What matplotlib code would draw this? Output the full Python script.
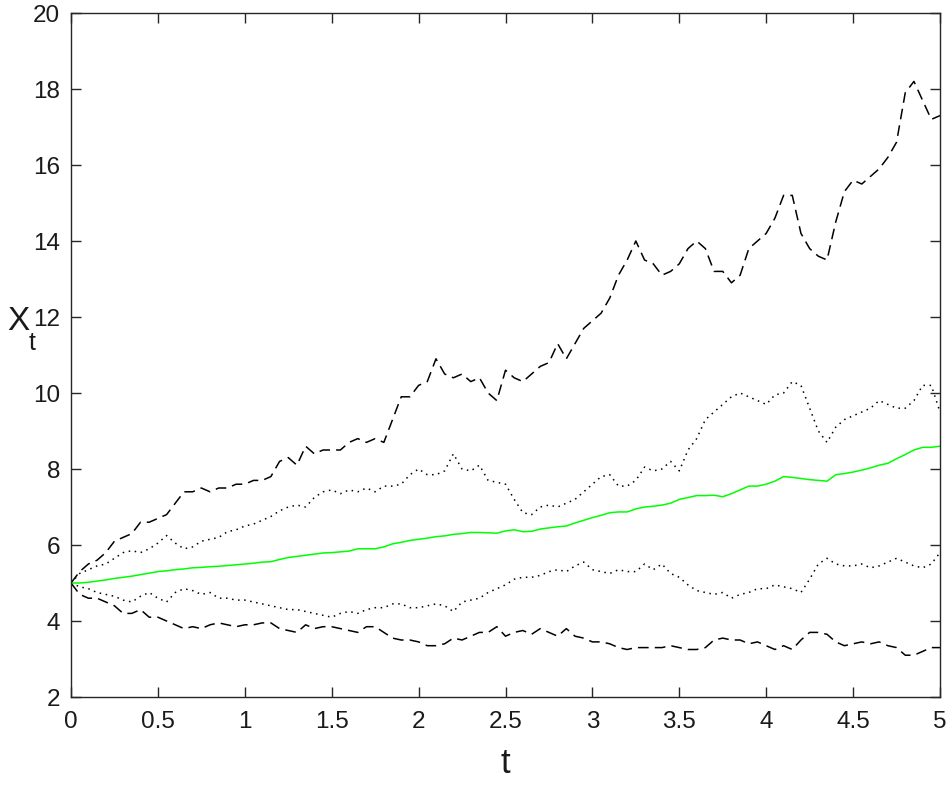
import matplotlib
matplotlib.use("Agg")
import matplotlib.pyplot as plt
import numpy as np

t = np.round(np.arange(0, 5.0001, 0.05), 2)

upper_outer = [5.0, 5.3, 5.5, 5.6, 5.8, 6.1, 6.2, 6.3, 6.6, 6.6,
               6.7, 6.8, 7.1, 7.4, 7.4, 7.5, 7.4, 7.5, 7.5, 7.6,
               7.6, 7.7, 7.7, 7.8, 8.2, 8.3, 8.1, 8.6, 8.4, 8.5,
               8.5, 8.5, 8.7, 8.8, 8.7, 8.8, 8.7, 9.3, 9.9, 9.9,
               10.2, 10.3, 10.9, 10.5, 10.4, 10.5, 10.3, 10.4, 10.0, 9.8,
               10.6, 10.4, 10.3, 10.5, 10.7, 10.8, 11.3, 10.9, 11.3, 11.7,
               11.9, 12.1, 12.5, 13.1, 13.5, 14.0, 13.5, 13.4, 13.1, 13.2,
               13.4, 13.8, 14.0, 13.8, 13.2, 13.2, 12.9, 13.1, 13.8, 14.0,
               14.2, 14.6, 15.2, 15.2, 14.2, 13.8, 13.6, 13.5, 14.5, 15.3,
               15.6, 15.5, 15.7, 15.9, 16.2, 16.6, 17.9, 18.2, 17.7, 17.2,
               17.3]

upper_inner = [5.0, 5.25, 5.35, 5.45, 5.5, 5.65, 5.8, 5.85, 5.8, 5.9,
               6.05, 6.25, 6.05, 5.9, 5.95, 6.1, 6.15, 6.2, 6.35, 6.4,
               6.5, 6.55, 6.65, 6.75, 6.9, 7.0, 7.05, 7.0, 7.25, 7.4,
               7.45, 7.35, 7.45, 7.4, 7.5, 7.4, 7.55, 7.55, 7.6, 7.85,
               8.0, 7.85, 7.85, 7.95, 8.4, 8.0, 7.95, 8.1, 7.7, 7.65,
               7.6, 7.2, 6.85, 6.8, 7.0, 7.05, 7.0, 7.1, 7.2, 7.4,
               7.6, 7.8, 7.85, 7.55, 7.55, 7.7, 8.05, 7.95, 8.0, 8.2,
               7.95, 8.5, 8.8, 9.3, 9.5, 9.7, 9.9, 10.0, 9.9, 9.8,
               9.7, 9.95, 10.0, 10.3, 10.2, 9.6, 9.0, 8.7, 9.1, 9.3,
               9.4, 9.5, 9.6, 9.8, 9.7, 9.6, 9.6, 9.8, 10.2, 10.2,
               9.5]

mean_path = [5.0, 5.0, 5.02, 5.05, 5.08, 5.12, 5.15, 5.18, 5.22, 5.26,
             5.3, 5.32, 5.35, 5.37, 5.4, 5.41, 5.43, 5.44, 5.46, 5.48,
             5.5, 5.52, 5.55, 5.56, 5.62, 5.67, 5.7, 5.73, 5.76, 5.79,
             5.8, 5.82, 5.84, 5.9, 5.9, 5.9, 5.95, 6.03, 6.07, 6.12,
             6.15, 6.18, 6.22, 6.24, 6.28, 6.3, 6.33, 6.33, 6.32, 6.31,
             6.37, 6.4, 6.35, 6.36, 6.42, 6.45, 6.48, 6.5, 6.58, 6.65,
             6.72, 6.78, 6.85, 6.87, 6.87, 6.95, 7.0, 7.02, 7.05, 7.1,
             7.2, 7.25, 7.3, 7.3, 7.31, 7.27, 7.35, 7.45, 7.55, 7.55,
             7.6, 7.68, 7.8, 7.78, 7.75, 7.72, 7.7, 7.68, 7.85, 7.88,
             7.92, 7.97, 8.03, 8.1, 8.15, 8.27, 8.38, 8.5, 8.57, 8.57,
             8.6]

lower_inner = [5.0, 4.9, 4.85, 4.75, 4.7, 4.65, 4.55, 4.5, 4.65, 4.75,
               4.6, 4.5, 4.75, 4.85, 4.8, 4.7, 4.75, 4.6, 4.6, 4.55,
               4.55, 4.5, 4.45, 4.4, 4.35, 4.3, 4.3, 4.25, 4.2, 4.15,
               4.1, 4.2, 4.25, 4.2, 4.3, 4.35, 4.35, 4.45, 4.45, 4.35,
               4.35, 4.4, 4.45, 4.4, 4.25, 4.5, 4.55, 4.6, 4.75, 4.85,
               4.95, 5.1, 5.15, 5.15, 5.2, 5.3, 5.35, 5.3, 5.45, 5.55,
               5.35, 5.3, 5.25, 5.35, 5.3, 5.3, 5.5, 5.35, 5.5, 5.25,
               5.15, 4.95, 4.8, 4.75, 4.7, 4.75, 4.6, 4.7, 4.75, 4.85,
               4.85, 4.95, 4.9, 4.85, 4.75, 5.1, 5.5, 5.65, 5.5, 5.45,
               5.45, 5.5, 5.4, 5.45, 5.55, 5.65, 5.55, 5.45, 5.4, 5.5,
               5.8]

lower_outer = [5.0, 4.7, 4.6, 4.6, 4.5, 4.4, 4.2, 4.2, 4.3, 4.1,
               4.1, 4.0, 3.9, 3.8, 3.85, 3.8, 3.9, 3.95, 3.9, 3.85,
               3.9, 3.9, 3.95, 3.95, 3.8, 3.75, 3.7, 3.9, 3.8, 3.85,
               3.85, 3.8, 3.75, 3.7, 3.85, 3.85, 3.7, 3.55, 3.5, 3.5,
               3.45, 3.35, 3.35, 3.4, 3.55, 3.5, 3.6, 3.7, 3.7, 3.85,
               3.6, 3.7, 3.75, 3.65, 3.8, 3.7, 3.6, 3.8, 3.6, 3.55,
               3.45, 3.45, 3.4, 3.3, 3.25, 3.3, 3.3, 3.3, 3.3, 3.35,
               3.3, 3.25, 3.25, 3.3, 3.5, 3.55, 3.5, 3.5, 3.4, 3.45,
               3.35, 3.25, 3.35, 3.25, 3.5, 3.7, 3.7, 3.65, 3.45, 3.35,
               3.4, 3.45, 3.4, 3.45, 3.35, 3.3, 3.1, 3.1, 3.2, 3.3,
               3.3]

x_ticks = [0, 0.5, 1, 1.5, 2, 2.5, 3, 3.5, 4, 4.5, 5]
x_tick_labels = ["0", "0.5", "1", "1.5", "2", "2.5", "3", "3.5", "4", "4.5", "5"]
y_ticks = [2, 4, 6, 8, 10, 12, 14, 16, 18, 20]
y_tick_labels = [str(v) for v in y_ticks]

plt.rcParams["font.family"] = ["Liberation Sans", "DejaVu Sans"]

W, H = 950, 787
fig = plt.figure(figsize=(9.5, 7.87), dpi=100)
ax = fig.add_axes([71/W, 1-697/H, (940-71)/W, (697-13)/H])

ax.plot(t, upper_outer, color="black", lw=1.1, dashes=(7, 4))
ax.plot(t, lower_outer, color="black", lw=1.1, dashes=(7, 4))
ax.plot(t, upper_inner, color="black", lw=1.1, linestyle=(0, (1, 3)))
ax.plot(t, lower_inner, color="black", lw=1.1, linestyle=(0, (1, 3)))
ax.plot(t, mean_path, color="#00ff00", lw=1.1)

ax.set_xlim(0, 5)
ax.set_ylim(2, 20)
ax.set_xticks(x_ticks)
ax.set_xticklabels(x_tick_labels)
ax.set_yticks(y_ticks)
ax.set_yticklabels(y_tick_labels)
ax.tick_params(axis="both", direction="in", length=7, width=1, top=True, right=True,
               labelsize=17.5, colors="#262626", labelcolor="#1a1a1a")
ax.tick_params(axis="x", pad=10)
ax.tick_params(axis="y", pad=8)
for s in ax.spines.values():
    s.set_color("#262626")
    s.set_linewidth(1.0)

ax.set_xlabel("t", fontsize=25, labelpad=10, color="#1a1a1a")
# y label "X_t" drawn as X with a lowered subscript t
fig.text(7/W, 1-330/H, "X", fontsize=24, ha="left", va="baseline", color="#1a1a1a")
fig.text(29/W, 1-350/H, "t", fontsize=18, ha="left", va="baseline", color="#1a1a1a")

fig.savefig("out.png", dpi=100)
